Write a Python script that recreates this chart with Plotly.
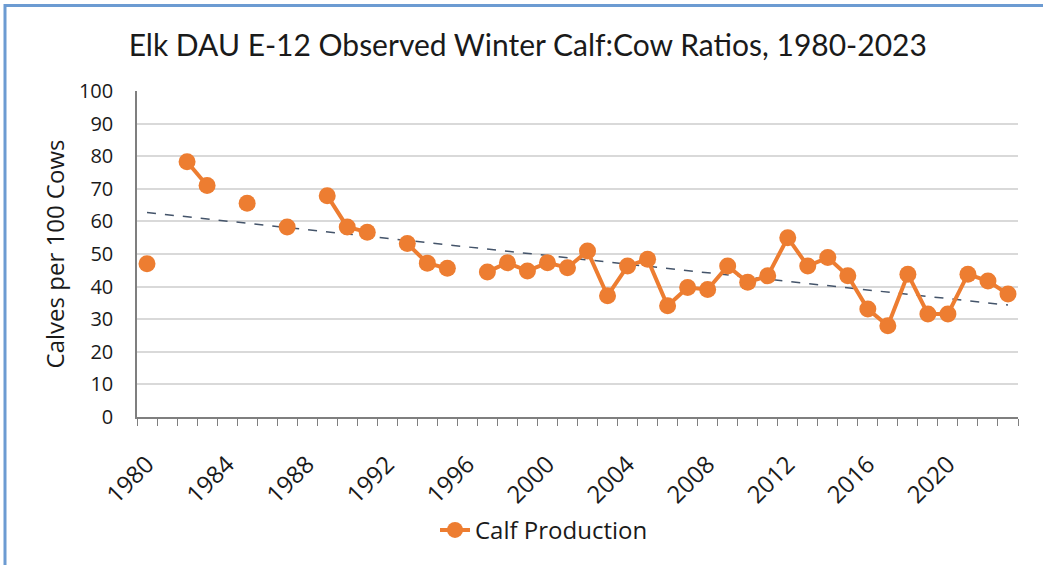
import numpy as np
import plotly.graph_objects as go

years = list(range(1980, 2024))
calf_ratio = [47.0, None, 78.3, 71.0, None, 65.6, None, 58.3, None, 67.9,
              58.3, 56.7, None, 53.2, 47.2, 45.6, None, 44.5, 47.3, 44.8,
              47.3, 45.8, 50.9, 37.2, 46.3, 48.4, 34.1, 39.7, 39.1, 46.3,
              41.3, 43.3, 55.0, 46.3, 48.9, 43.3, 33.1, 28.0, 43.8, 31.6,
              31.6, 43.8, 41.7, 37.7]
label_years = list(range(1980, 2021, 4))
title_text = "Elk DAU E-12 Observed Winter Calf:Cow Ratios, 1980-2023"
y_title = "Calves per 100 Cows"
series_name = "Calf Production"

# Linear trendline (least squares, as the spreadsheet trendline)
xs = np.array([y for y, v in zip(years, calf_ratio) if v is not None], float)
vs = np.array([v for v in calf_ratio if v is not None], float)
slope, intercept = np.polyfit(xs, vs, 1)
trend = [slope * y + intercept for y in years]

orange = "#ED7D31"
axis_col = "#7F7F7F"
font_main = "Open Sans"
txt_col = "#1a1a1a"

L, R, T, B = 137, 25, 91, 146
PW, PH = 1043 - L - R, 565 - T - B

fig = go.Figure()
fig.add_trace(go.Scatter(
    x=years, y=trend, mode="lines", showlegend=False, hoverinfo="skip",
    line=dict(color="#44546A", width=1.5, dash="dash")))
fig.add_trace(go.Scatter(
    x=years, y=calf_ratio, mode="lines+markers", name=series_name,
    connectgaps=False,
    line=dict(color=orange, width=4),
    marker=dict(color=orange, size=17)))

fig.update_layout(
    width=1043, height=565,
    paper_bgcolor="white", plot_bgcolor="white",
    margin=dict(l=L, r=R, t=T, b=B),
    title=dict(text=title_text, x=0.506, xanchor="center", y=0.920, yanchor="middle",
               font=dict(family="Lato", size=30, color=txt_col)),
    font=dict(family=font_main, color=txt_col),
    showlegend=True,
    legend=dict(orientation="h", x=(544 - L) / PW, xanchor="center",
                y=(419 - 533) / PH, yanchor="middle",
                font=dict(family=font_main, size=24, color=txt_col),
                bgcolor="rgba(0,0,0,0)"),
)

fig.update_xaxes(
    range=[1979.5, 2023.5], tickmode="array", tickvals=label_years,
    ticktext=[str(y) for y in label_years], tickangle=-45,
    ticks="", ticklabelstandoff=22,
    tickfont=dict(family=font_main, size=24, color=txt_col),
    showline=True, linecolor=axis_col, linewidth=1.5,
    showgrid=False, zeroline=False,
    minor=dict(tickmode="array", tickvals=[y - 0.5 for y in years] + [2023.5],
               ticks="outside", ticklen=7, tickwidth=1, tickcolor=axis_col,
               showgrid=False),
)
fig.update_yaxes(
    range=[0, 100], dtick=10, tick0=0,
    ticks="", ticklabelstandoff=18,
    tickfont=dict(family=font_main, size=20, color=txt_col),
    showline=True, linecolor=axis_col, linewidth=1.5,
    showgrid=True, gridcolor="#D9D9D9", gridwidth=1.5, zeroline=False,
    title=dict(text=y_title, standoff=8,
               font=dict(family=font_main, size=24, color=txt_col)),
)

# Outer chart border (visible on top and left edges)
fig.add_shape(type="rect", xref="paper", yref="paper",
              x0=(5 - L) / PW, x1=(1070 - L) / PW,
              y0=(419 - 590) / PH, y1=(419 - 5) / PH,
              line=dict(color="#6C9BD2", width=3), fillcolor="rgba(0,0,0,0)",
              layer="below")

fig.write_html("out.html", config={"displayModeBar": False},
               post_script="document.body.style.margin='0';document.body.style.overflow='hidden';")
